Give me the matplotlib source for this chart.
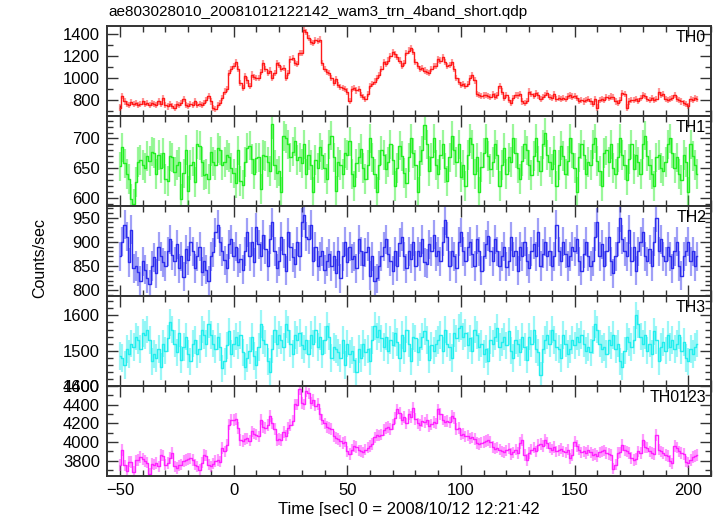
import numpy as np
import matplotlib
matplotlib.use('Agg')
import matplotlib.pyplot as plt
from matplotlib.ticker import MultipleLocator, FixedLocator

plt.rcParams['font.family'] = ['Liberation Sans', 'DejaVu Sans']

# time bins (1 s), start of the light curve
t_start = -50

th0 = [735, 840, 790, 770, 760, 785, 765, 780, 755, 770,
       790, 765, 775, 760, 780, 770, 755, 790, 770, 820,
       760, 745, 770, 750, 735, 765, 755, 775, 810, 760,
       750, 770, 760, 790, 755, 770, 760, 780, 800, 840,
       790, 730, 720, 760, 780, 820, 880, 900, 1050, 1080,
       1110, 1145, 1080, 960, 913, 1018, 980, 928, 1033, 1010,
       1000, 1005, 1060, 1137, 1080, 1050, 1070, 1000, 1050, 1137,
       1120, 1080, 1090, 1000, 1050, 1170, 1182, 1140, 1130, 1227,
       1230, 1436, 1420, 1360, 1330, 1316, 1346, 1340, 1350, 1137,
       1080, 1060, 1050, 1000, 960, 990, 940, 920, 913, 900,
       880, 795, 900, 910, 890, 900, 850, 830, 810, 860,
       930, 950, 970, 1000, 1030, 1080, 1150, 1130, 1160, 1200,
       1240, 1215, 1190, 1160, 1110, 1140, 1230, 1250, 1275, 1240,
       1150, 1110, 1080, 1090, 1070, 1060, 1050, 1080, 1110, 1110,
       1170, 1160, 1190, 1150, 1110, 1120, 1150, 1080, 1000, 970,
       940, 950, 930, 945, 1000, 1030, 980, 860, 850, 840,
       845, 850, 840, 830, 855, 835, 845, 930, 880, 820,
       850, 800, 780, 820, 850, 845, 855, 790, 780, 795,
       880, 860, 840, 870, 845, 810, 830, 850, 870, 830,
       825, 860, 815, 825, 810, 820, 815, 840, 845, 835,
       840, 820, 795, 800, 790, 800, 810, 790, 765, 810,
       735, 805, 810, 800, 830, 820, 835, 830, 790, 780,
       800, 870, 860, 735, 790, 805, 800, 810, 795, 820,
       850, 840, 815, 805, 820, 800, 810, 880, 850, 860,
       810, 800, 815, 825, 850, 810, 800, 790, 780, 770,
       750, 815, 805, 820, 810]

th1 = [653, 685, 658, 640, 632, 598, 590, 627, 660, 664,
       655, 650, 670, 662, 678, 676, 640, 672, 650, 675,
       632, 628, 670, 668, 644, 655, 660, 598, 641, 681,
       612, 655, 661, 627, 690, 688, 660, 638, 640, 632,
       678, 661, 655, 684, 680, 655, 660, 672, 668, 650,
       641, 625, 680, 628, 622, 660, 684, 688, 665, 640,
       667, 668, 615, 672, 670, 660, 645, 724, 655, 641,
       645, 610, 704, 700, 690, 668, 678, 695, 664, 668,
       658, 690, 640, 672, 655, 610, 664, 650, 685, 672,
       650, 632, 690, 705, 668, 612, 660, 655, 640, 676,
       672, 695, 640, 620, 658, 668, 682, 650, 632, 655,
       700, 668, 640, 610, 655, 680, 672, 648, 660, 690,
       664, 620, 650, 688, 670, 642, 625, 668, 700, 675,
       655, 610, 662, 680, 722, 690, 645, 668, 700, 655,
       640, 672, 690, 650, 628, 668, 705, 680, 660, 690,
       635, 655, 620, 672, 700, 690, 640, 668, 610, 652,
       676, 700, 670, 648, 660, 690, 672, 620, 655, 684,
       640, 668, 660, 700, 675, 650, 632, 662, 690, 680,
       655, 638, 670, 700, 662, 645, 690, 710, 672, 660,
       648, 680, 620, 655, 688, 670, 640, 662, 700, 675,
       650, 610, 668, 690, 672, 640, 660, 655, 690, 700,
       662, 645, 620, 675, 680, 660, 690, 650, 640, 668,
       700, 672, 655, 630, 665, 690, 648, 672, 660, 640,
       690, 705, 670, 655, 640, 620, 668, 672, 650, 645,
       660, 690, 700, 675, 650, 668, 640, 630, 672, 660,
       610, 690, 670, 655, 640]

th2 = [870, 900, 935, 910, 858, 925, 845, 850, 838, 820,
       860, 842, 825, 812, 850, 868, 835, 890, 870, 858,
       850, 880, 905, 872, 860, 895, 845, 870, 828, 885,
       862, 900, 880, 845, 870, 890, 838, 860, 842, 820,
       870, 878, 920, 935, 900, 880, 862, 845, 895, 905,
       870, 890, 858, 865, 842, 880, 920, 870, 900, 858,
       930, 895, 870, 915, 885, 850, 905, 940, 880, 845,
       860, 910, 875, 840, 920, 890, 868, 855, 900, 870,
       940, 955, 910, 905, 935, 860, 890, 850, 870, 880,
       842, 860, 875, 850, 870, 835, 880, 825, 870, 900,
       858, 890, 865, 870, 845, 905, 880, 852, 878, 890,
       830, 870, 820, 825, 850, 870, 890, 905, 875, 860,
       840, 880, 850, 898, 910, 870, 845, 880, 865, 900,
       850, 880, 870, 905, 858, 855, 895, 880, 915, 870,
       880, 860, 900, 945, 910, 850, 880, 870, 845, 900,
       920, 880, 860, 890, 900, 875, 850, 905, 880, 840,
       870, 895, 912, 880, 860, 905, 880, 850, 870, 890,
       848, 860, 910, 870, 880, 840, 890, 870, 900, 860,
       845, 880, 895, 870, 920, 850, 875, 900, 870, 880,
       850, 870, 935, 880, 860, 900, 875, 850, 870, 890,
       880, 905, 860, 840, 875, 900, 870, 850, 860, 910,
       940, 870, 895, 850, 880, 910, 860, 835, 870, 900,
       950, 905, 880, 870, 925, 860, 890, 840, 880, 900,
       920, 870, 860, 885, 850, 900, 950, 880, 905, 870,
       860, 890, 870, 845, 880, 900, 850, 830, 870, 880,
       900, 860, 880, 850, 870]

th3 = [1485, 1480, 1460, 1505, 1490, 1520, 1510, 1540, 1530, 1505,
       1550, 1545, 1560, 1530, 1470, 1490, 1480, 1505, 1455, 1520,
       1500, 1535, 1580, 1560, 1520, 1495, 1550, 1475, 1510, 1540,
       1490, 1470, 1520, 1530, 1490, 1505, 1560, 1545, 1520, 1575,
       1545, 1520, 1505, 1540, 1510, 1450, 1470, 1515, 1555, 1490,
       1520, 1540, 1515, 1545, 1495, 1455, 1480, 1500, 1540, 1485,
       1460, 1510, 1575, 1530, 1520, 1470, 1440, 1505, 1560, 1520,
       1545, 1530, 1510, 1575, 1560, 1520, 1490, 1545, 1530, 1550,
       1515, 1505, 1530, 1490, 1545, 1520, 1560, 1510, 1540, 1490,
       1530, 1570, 1540, 1480, 1510, 1505, 1495, 1480, 1530, 1460,
       1520, 1490, 1500, 1475, 1440, 1505, 1480, 1520, 1495, 1505,
       1470, 1530, 1570, 1540, 1560, 1535, 1510, 1540, 1500, 1530,
       1515, 1550, 1525, 1480, 1545, 1500, 1560, 1520, 1470, 1540,
       1535, 1495, 1510, 1540, 1555, 1530, 1475, 1515, 1500, 1520,
       1530, 1545, 1500, 1560, 1520, 1510, 1480, 1550, 1535, 1565,
       1570, 1540, 1550, 1515, 1535, 1500, 1560, 1545, 1510, 1520,
       1490, 1505, 1470, 1530, 1520, 1540, 1565, 1510, 1525, 1540,
       1515, 1555, 1500, 1480, 1530, 1520, 1495, 1540, 1510, 1475,
       1540, 1520, 1560, 1505, 1495, 1430, 1505, 1530, 1545, 1520,
       1560, 1530, 1510, 1505, 1480, 1545, 1520, 1490, 1505, 1530,
       1515, 1540, 1525, 1545, 1520, 1500, 1510, 1495, 1530, 1575,
       1560, 1520, 1505, 1510, 1490, 1530, 1515, 1545, 1505, 1520,
       1470, 1455, 1500, 1540, 1525, 1510, 1530, 1600, 1575, 1540,
       1520, 1545, 1500, 1520, 1490, 1555, 1530, 1470, 1510, 1525,
       1500, 1545, 1510, 1530, 1505, 1520, 1545, 1500, 1525, 1480,
       1470, 1505, 1490, 1510, 1520]

th0123 = [3753, 3916, 3750, 3690, 3790, 3785, 3680, 3805, 3810, 3843,
          3820, 3800, 3780, 3660, 3770, 3760, 3775, 3740, 3860, 3855,
          3760, 3775, 3830, 3880, 3740, 3720, 3750, 3760, 3800, 3810,
          3820, 3825, 3810, 3760, 3740, 3700, 3780, 3860, 3855, 3760,
          3740, 3770, 3800, 3810, 3790, 3934, 3900, 3970, 4187, 4240,
          4235, 4250, 4150, 4020, 4010, 4030, 4040, 4015, 4115, 4090,
          4080, 4060, 4241, 4160, 4150, 4180, 4277, 4200, 4140, 4024,
          4030, 4020, 4110, 4070, 4150, 4180, 4230, 4404, 4400, 4567,
          4420, 4404, 4549, 4520, 4420, 4450, 4390, 4410, 4300, 4241,
          4200, 4160, 4150, 4140, 4060, 4042, 4030, 4010, 3990, 4006,
          3900, 3870, 3920, 3960, 3950, 3910, 3905, 3890, 3920, 3940,
          3960, 3980, 4050, 4078, 4070, 4080, 4130, 4150, 4160, 4140,
          4190, 4260, 4350, 4310, 4240, 4270, 4200, 4296, 4270, 4368,
          4250, 4200, 4180, 4223, 4210, 4240, 4170, 4190, 4215, 4200,
          4350, 4300, 4240, 4220, 4225, 4210, 4277, 4260, 4140, 4150,
          4080, 4090, 4060, 4070, 4040, 4050, 4030, 3990, 3980, 3995,
          4000, 4010, 4020, 4000, 3950, 3930, 3940, 3920, 3900, 3890,
          3910, 3930, 3870, 3890, 3920, 3880, 3990, 4024, 3860, 3810,
          3880, 3920, 3940, 3900, 3970, 3980, 3960, 4024, 3990, 3940,
          3920, 3950, 3900, 3910, 3930, 3900, 3890, 3920, 3825, 3860,
          4006, 3960, 3920, 3890, 3900, 3880, 3910, 3890, 3860, 3870,
          3850, 3890, 3900, 3910, 3880, 3870, 3860, 3717, 3760, 3880,
          3890, 3970, 3910, 3900, 3880, 3830, 3810, 3820, 3900, 3880,
          4024, 3950, 3940, 3900, 3880, 3870, 4078, 3920, 3900, 3880,
          3860, 3850, 3800, 3771, 3960, 3940, 3900, 3880, 3870, 3790,
          3780, 3810, 3840, 3850, 3860]

# typical 1-sigma error per band (counts/sec)
errs = [28, 25, 30, 39, 62]

names = ['TH0', 'TH1', 'TH2', 'TH3', 'TH0123']
colors = ['#ff1a1a', '#22ee22', '#2e2eee', '#22eeee', '#ff22ff']
ylims = [(659, 1472), (586, 738), (788, 974), (1400, 1655), (3637, 4600)]
yticks = [[800, 1000, 1200, 1400], [600, 650, 700], [800, 850, 900, 950],
          [1400, 1500, 1600], [3800, 4000, 4200, 4400, 4600]]
yminor = [100, 10, 10, 20, 100]

series = [th0, th1, th2, th3, th0123]

fig = plt.figure(figsize=(7.17, 5.16), dpi=100)
left, width = 107 / 717, 604 / 717
top_px = 26
h_px = 90

axes = []
for i in range(5):
    y0 = 1 - (top_px + (i + 1) * h_px) / 516
    ax = fig.add_axes([left, y0, width, h_px / 516])
    axes.append(ax)
    y = np.array(series[i])
    t = np.arange(len(y)) + t_start
    ax.errorbar(t, y, yerr=errs[i], fmt='none', ecolor=colors[i],
                elinewidth=1.6, alpha=0.45)
    ax.step(t, y, where='mid', color=colors[i], lw=1.0)
    ax.set_xlim(-55.7, 210)
    ax.set_ylim(*ylims[i])
    ax.yaxis.set_major_locator(FixedLocator(yticks[i]))
    ax.yaxis.set_minor_locator(MultipleLocator(yminor[i]))
    ax.xaxis.set_major_locator(MultipleLocator(50))
    ax.xaxis.set_minor_locator(MultipleLocator(10))
    ax.tick_params(which='both', direction='in', top=True, right=True,
                   labelsize=12, color='#333333')
    ax.tick_params(which='major', length=8, width=1, pad=5)
    ax.tick_params(which='minor', length=4.5, width=1)
    for s in ax.spines.values():
        s.set_linewidth(1.4)
        s.set_color('#333333')
    ax.text(0.992, 0.96, names[i], transform=ax.transAxes, ha='right',
            va='top', fontsize=11.5)
    if i < 4:
        ax.tick_params(labelbottom=False)

axes[-1].set_xlabel('Time [sec] 0 = 2008/10/12 12:21:42', fontsize=12, labelpad=3)
fig.text(0.056, 1 - 258 / 516, 'Counts/sec', rotation=90, ha='center',
         va='center', fontsize=11.5)
fig.text(left + 0.002, 1 - 12 / 516, 'ae803028010_20081012122142_wam3_trn_4band_short.qdp',
         ha='left', va='center', fontsize=11)

fig.savefig('out.png', dpi=100)
